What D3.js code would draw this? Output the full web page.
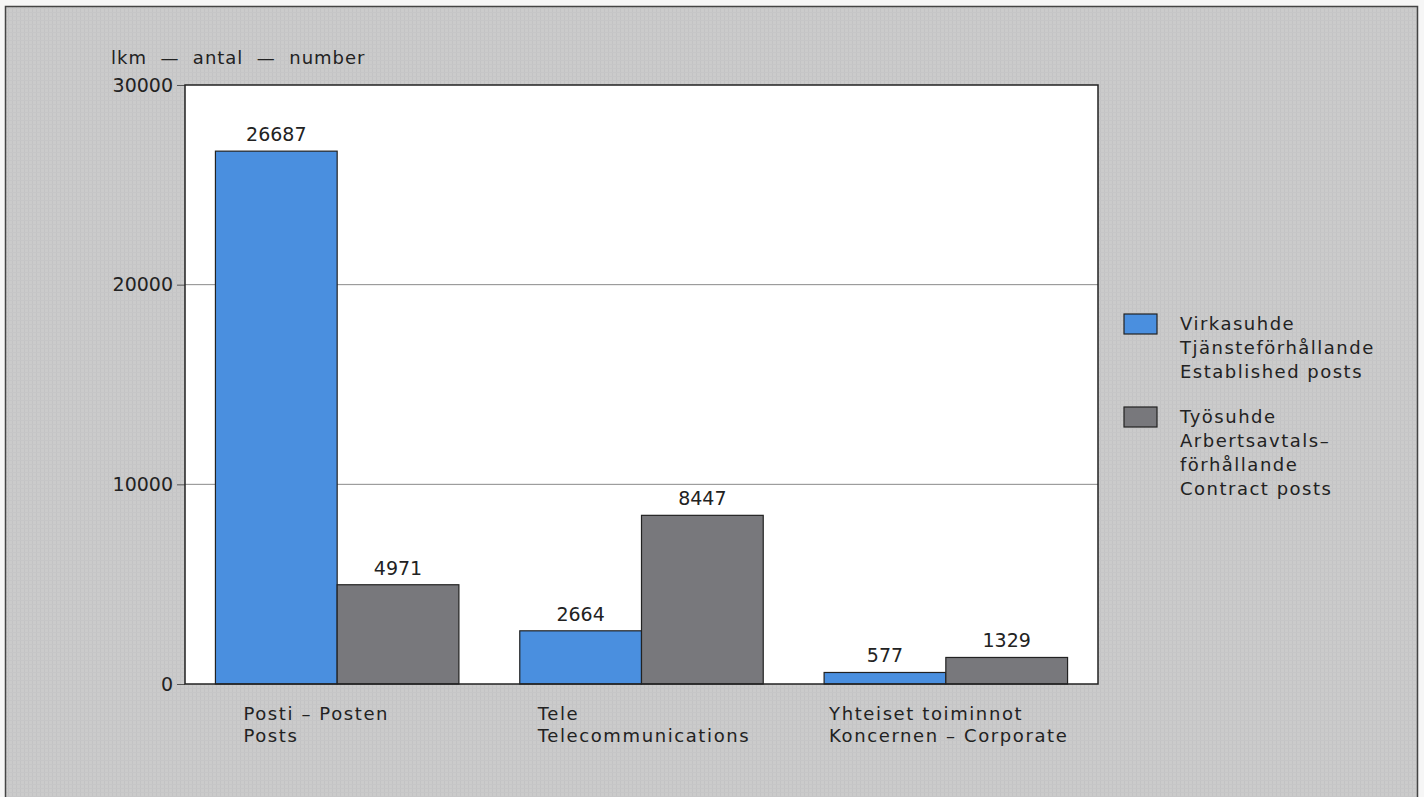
<!DOCTYPE html>
<html>
<head>
<meta charset="utf-8">
<script src="https://cdn.jsdelivr.net/npm/d3@7"></script>
<style>
  body { margin: 0; background: #f6f6f6; }
  text { font-family: "DejaVu Sans", sans-serif; fill: #222; }
</style>
</head>
<body>
<div id="chart"></div>
<script>
const categories = ["Posti", "Tele", "Yhteiset"];
const categoryLabels = [
  ["Posti – Posten", "Posts"],
  ["Tele", "Telecommunications"],
  ["Yhteiset toiminnot", "Koncernen – Corporate"]
];
const seriesNames = ["Virkasuhde", "Työsuhde"];
const established = [26687, 2664, 577];
const contract = [4971, 8447, 1329];
const yTicks = [0, 10000, 20000, 30000];
const legendLabels = [
  ["Virkasuhde", "Tjänsteförhållande", "Established posts"],
  ["Työsuhde", "Arbertsavtals–", "förhållande", "Contract posts"]
];
const colors = ["#4a8fdf", "#78787c"];

const fullWidth = 1424;
const fullHeight = 797;
const margin = { top: 85, right: 326, bottom: 113, left: 185 };
const width = fullWidth - margin.left - margin.right;
const height = fullHeight - margin.top - margin.bottom;

const svg = d3
  .select("#chart")
  .append("svg")
  .attr("width", fullWidth)
  .attr("height", fullHeight);

// paper texture
const defs = svg.append("defs");
const pat = defs
  .append("pattern")
  .attr("id", "paper")
  .attr("width", 4)
  .attr("height", 4)
  .attr("patternUnits", "userSpaceOnUse");
pat.append("rect").attr("width", 4).attr("height", 4).attr("fill", "#cbcbcb");
pat.append("rect").attr("width", 1).attr("height", 4).attr("fill", "#c3c3c4");
pat.append("rect").attr("width", 4).attr("height", 1).attr("fill", "#c6c6c7");

svg
  .append("rect")
  .attr("x", 5.5)
  .attr("y", 6.5)
  .attr("width", 1412)
  .attr("height", 800)
  .attr("fill", "url(#paper)")
  .attr("stroke", "#444")
  .attr("stroke-width", 1.5);

const g = svg.append("g").attr("transform", `translate(${margin.left}, ${margin.top})`);

const x = d3.scaleBand().domain(categories).range([0, width]).paddingInner(0.2).paddingOuter(0.1);
const x1 = d3.scaleBand().domain(seriesNames).range([0, x.bandwidth()]);
const y = d3.scaleLinear().domain([0, 30000]).range([height, 0]);

g.append("rect")
  .attr("width", width)
  .attr("height", height)
  .attr("fill", "#fff");

// gridlines
g.selectAll(".grid")
  .data(yTicks.filter(t => t > 0 && t < 30000))
  .join("line")
  .attr("x1", 0)
  .attr("x2", width)
  .attr("y1", d => y(d))
  .attr("y2", d => y(d))
  .attr("stroke", "#8a8a8a")
  .attr("stroke-width", 1);

// y axis
const yAxis = d3.axisLeft(y).tickValues(yTicks).tickSize(8).tickPadding(4).tickFormat(d3.format("d"));
const ya = g.append("g").call(yAxis);
ya.select(".domain").remove();
ya.selectAll(".tick line").attr("stroke", "#555");
ya.selectAll(".tick text")
  .style("font-size", "19px")
  .style("font-family", "'DejaVu Sans', sans-serif")
  .attr("fill", "#222");

g.append("text")
  .attr("x", -74)
  .attr("y", -21)
  .style("font-size", "18px")
  .style("letter-spacing", "1px")
  .text("lkm\u00a0 —\u00a0 antal\u00a0 —\u00a0 number");

// bars
const rows = categories.map((c, i) => ({ cat: c, values: [established[i], contract[i]] }));
const groups = g
  .selectAll(".grp")
  .data(rows)
  .join("g")
  .attr("transform", d => `translate(${x(d.cat)},0)`);

groups
  .selectAll("rect")
  .data(d => d.values.map((v, k) => ({ v, s: seriesNames[k], k })))
  .join("rect")
  .attr("x", d => x1(d.s))
  .attr("y", d => y(d.v))
  .attr("width", x1.bandwidth())
  .attr("height", d => height - y(d.v))
  .attr("fill", d => colors[d.k])
  .attr("stroke", "#222")
  .attr("stroke-width", 1.2);

groups
  .selectAll(".val")
  .data(d => d.values.map((v, k) => ({ v, s: seriesNames[k] })))
  .join("text")
  .attr("x", d => x1(d.s) + x1.bandwidth() / 2)
  .attr("y", d => y(d.v) - 10)
  .attr("text-anchor", "middle")
  .style("font-size", "19px")
  .text(d => d.v);

// frame
g.append("rect")
  .attr("width", width)
  .attr("height", height)
  .attr("fill", "none")
  .attr("stroke", "#222")
  .attr("stroke-width", 1.5);

// category labels
groups
  .append("text")
  .attr("x", (d, i) => [28, 18, 5][i])
  .attr("y", height + 36)
  .style("font-size", "18px")
  .style("letter-spacing", "1.6px")
  .selectAll("tspan")
  .data((d, i) => categoryLabels[i])
  .join("tspan")
  .attr("x", function () { return d3.select(this.parentNode).attr("x"); })
  .attr("dy", (d, j) => (j === 0 ? 0 : 22))
  .text(d => d);

// legend
const legend = svg.append("g").attr("transform", "translate(1124, 314)");
let ly = 0;
legendLabels.forEach((lines, k) => {
  const item = legend.append("g").attr("transform", `translate(0, ${ly})`);
  item
    .append("rect")
    .attr("width", 33)
    .attr("height", 20)
    .attr("fill", colors[k])
    .attr("stroke", "#222")
    .attr("stroke-width", 1.2);
  item
    .append("text")
    .attr("x", 56)
    .attr("y", 16)
    .style("font-size", "18px")
    .style("letter-spacing", "1.5px")
    .selectAll("tspan")
    .data(lines)
    .join("tspan")
    .attr("x", 56)
    .attr("dy", (d, j) => (j === 0 ? 0 : 24))
    .text(d => d);
  ly += 93;
});
</script>
</body>
</html>
